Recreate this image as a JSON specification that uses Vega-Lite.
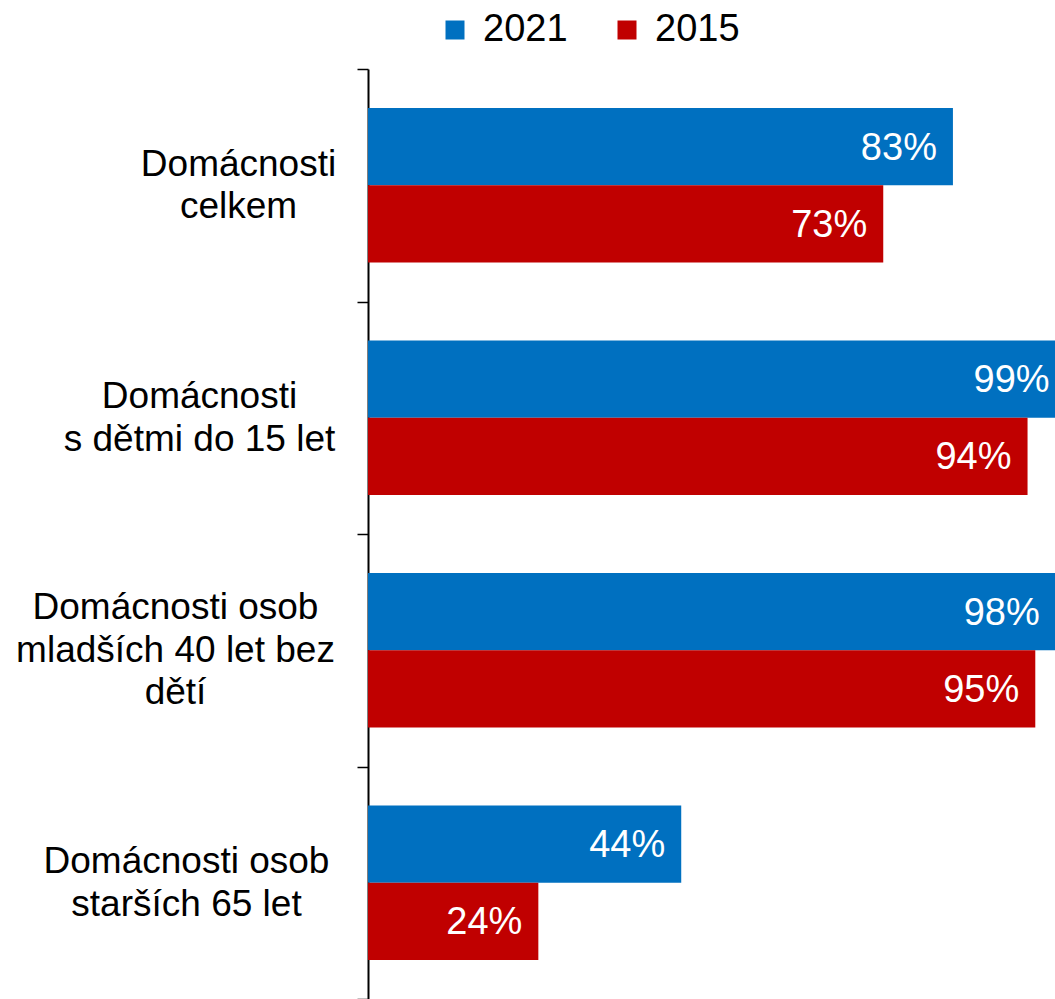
{
  "$schema": "https://vega.github.io/schema/vega-lite/v6.json",
  "width": 687,
  "height": 930,
  "autosize": {"type": "none"},
  "padding": {"left": 368, "top": 69, "right": 0, "bottom": 0},
  "background": "white",
  "config": {"view": {"stroke": null}, "font": "Liberation Sans"},
  "data": {
    "values": [
      {"kategorie": "Domácnosti\ncelkem", "rok": "2021", "podil": 83.1, "popisek": "83%"},
      {"kategorie": "Domácnosti\ncelkem", "rok": "2015", "podil": 73.2, "popisek": "73%"},
      {"kategorie": "Domácnosti\ns dětmi do 15 let", "rok": "2021", "podil": 99.1, "popisek": "99%"},
      {"kategorie": "Domácnosti\ns dětmi do 15 let", "rok": "2015", "podil": 93.7, "popisek": "94%"},
      {"kategorie": "Domácnosti osob\nmladších 40 let bez\ndětí", "rok": "2021", "podil": 97.7, "popisek": "98%"},
      {"kategorie": "Domácnosti osob\nmladších 40 let bez\ndětí", "rok": "2015", "podil": 94.8, "popisek": "95%"},
      {"kategorie": "Domácnosti osob\nstarších 65 let", "rok": "2021", "podil": 44.5, "popisek": "44%"},
      {"kategorie": "Domácnosti osob\nstarších 65 let", "rok": "2015", "podil": 24.2, "popisek": "24%"}
    ]
  },
  "encoding": {
    "y": {
      "field": "kategorie",
      "type": "nominal",
      "sort": null,
      "scale": {"paddingInner": 0, "paddingOuter": 0},
      "axis": {
        "title": null,
        "domainColor": "black",
        "domainWidth": 2,
        "tickColor": "black",
        "tickWidth": 1.5,
        "tickSize": 11,
        "tickBand": "extent",
        "labelFont": "Liberation Sans",
        "labelFontSize": 37,
        "labelColor": "black",
        "labelAlign": "center",
        "labelBaseline": "middle",
        "labelLineHeight": 42.5,
        "labelLimit": 400,
        "labelOverlap": false,
        "labelExpr": "split(datum.label, '\\n')",
        "labelPadding": {"expr": "datum && datum.value ? (indexof(datum.value, 'celkem') >= 0 ? 119 : indexof(datum.value, 'dětmi') >= 0 ? 158 : indexof(datum.value, 'mladších') >= 0 ? 182 : 171) : 119"},
        "labelOffset": {"expr": "datum && datum.value ? -(length(split(datum.value, '\\n')) - 1) * 21.25 : 0"}
      }
    },
    "yOffset": {
      "field": "rok",
      "type": "nominal",
      "sort": ["2021", "2015"],
      "scale": {"paddingInner": 0, "paddingOuter": 0.506}
    },
    "x": {
      "field": "podil",
      "type": "quantitative",
      "scale": {"domain": [0, 97.6], "nice": false, "zero": true},
      "axis": null
    }
  },
  "layer": [
    {
      "mark": {"type": "bar", "clip": true},
      "encoding": {
        "color": {
          "field": "rok",
          "type": "nominal",
          "scale": {"domain": ["2021", "2015"], "range": ["#0070C0", "#C00000"]},
          "legend": {
            "orient": "none",
            "legendX": 68,
            "legendY": -58,
            "direction": "horizontal",
            "title": null,
            "symbolType": "square",
            "symbolSize": 361,
            "symbolStrokeWidth": 0,
            "symbolOpacity": 1,
            "labelFont": "Liberation Sans",
            "labelFontSize": 38,
            "labelColor": "black",
            "labelOffset": 9,
            "columnPadding": 40
          }
        }
      }
    },
    {
      "mark": {
        "type": "text",
        "align": "right",
        "baseline": "middle",
        "dx": -16,
        "dy": 2,
        "fontSize": 38,
        "font": "Liberation Sans",
        "color": "white"
      },
      "encoding": {"text": {"field": "popisek"}}
    }
  ]
}
